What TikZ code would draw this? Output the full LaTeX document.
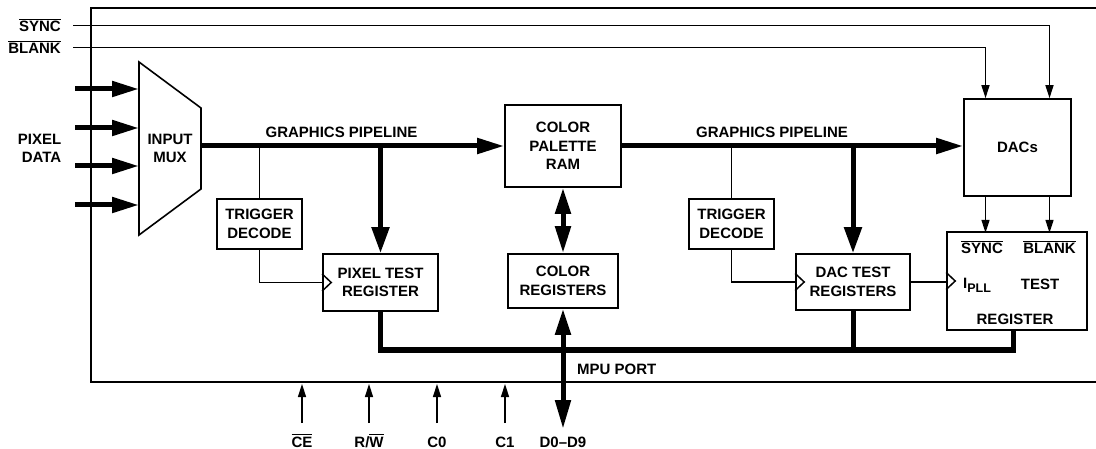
\documentclass[tikz,border=0pt]{standalone}
\usepackage{fontspec}
\setmainfont{Liberation Sans}
\usetikzlibrary{arrows.meta}
\newcommand\olbar[1]{\leavevmode\vbox{\hrule height 1.2pt\kern1.6pt\hbox{#1}}}
\begin{document}
\begin{tikzpicture}[x=1pt,y=-1pt,
  font=\fontsize{15}{18.5}\selectfont\bfseries,
  blk/.style={draw, line width=1.6pt, align=center, inner sep=0pt},
  lbl/.style={inner sep=0pt, align=center},
  sig/.style={line width=1.5pt},
  sigarrow/.style={sig, -{Triangle[length=13pt,width=8pt]}},
  bus/.style={line width=5pt},
  busarrow/.style={bus, -{Triangle[length=27pt,width=15pt]}},
  busdown/.style={bus, -{Triangle[length=26pt,width=17pt]}},
  busboth/.style={bus, {Triangle[length=26pt,width=15pt]}-{Triangle[length=27pt,width=15pt]}}
]
\useasboundingbox (0,0) rectangle (1096,449);

% outer chip outline (open to the right)
\draw[line width=2pt] (1096,8) -- (91,8) -- (91,382) -- (1096,382);

% blocks
\node[blk, minimum width=116pt, minimum height=82pt] (pal) at (563,146) {COLOR\\PALETTE\\RAM};
\node[blk, minimum width=110pt, minimum height=54pt] (creg) at (563,281) {COLOR\\REGISTERS};
\node[blk, minimum width=115pt, minimum height=57pt] (ptr) at (380.5,282.5) {PIXEL TEST\\REGISTER};
\node[blk, minimum width=85pt, minimum height=50pt] (tdA) at (259.5,224) {TRIGGER\\DECODE};
\node[blk, minimum width=85pt, minimum height=50pt] (tdB) at (731.5,224) {TRIGGER\\DECODE};
\node[blk, minimum width=114pt, minimum height=56pt] (dtr) at (853,282) {DAC TEST\\REGISTERS};
\node[blk, minimum width=107pt, minimum height=97pt] (dacs) at (1017.5,147.5) {DACs};
\node[blk, minimum width=140pt, minimum height=98pt] (treg) at (1017,281) {};

% test register contents
\node[lbl, anchor=base] (tsync) at (982,254) {\olbar{SYNC}};
\node[lbl, anchor=base] (tblank) at (1049.5,254) {\olbar{BLANK}};
\node[lbl, anchor=base west] (tipll) at (963,289) {I{\fontsize{12.5}{12.5}\selectfont\raisebox{-4pt}{PLL}}};
\node[lbl, anchor=base] (ttest) at (1040,290) {TEST};
\node[lbl, anchor=base] (treglbl) at (1015,325) {REGISTER};

% input mux
\coordinate (mTL) at (139,62);
\coordinate (mTR) at (201,108);
\coordinate (mBR) at (201,189);
\coordinate (mBL) at (139,235);
\draw[line width=1.6pt, line join=miter] (mTL) -- (mTR) -- (mBR) -- (mBL) -- cycle;
\node[lbl] (mux) at (170,148.5) {INPUT\\MUX};

% pixel data inputs
\node[lbl, anchor=east, align=right] (pdlbl) at (61.5,148.5) {PIXEL\\DATA};
\foreach \y [count=\i] in {89,128,166,205} {
  \coordinate (pd\i) at (75,\y);
  \draw[busarrow] (pd\i) -- (pd\i -| mTL);
}

% SYNC / BLANK inputs
\node[lbl, anchor=base east] (syncL) at (61,32) {\olbar{SYNC}};
\node[lbl, anchor=base east] (blankL) at (61,54) {\olbar{BLANK}};
\coordinate (syncIn) at (73,25.5);
\coordinate (blankIn) at (73,47.5);
\draw[sigarrow] (syncIn) -| ([xshift=32pt]dacs.north);
\draw[sigarrow] (blankIn) -| ([xshift=-32pt]dacs.north);
\draw[sigarrow] ([xshift=-32pt]dacs.south) -- ++(0,36);
\draw[sigarrow] ([xshift=32pt]dacs.south) -- ++(0,36);

% graphics pipeline
\coordinate (muxOut) at (201,146);
\draw[busarrow] (muxOut) -- (pal.west);
\draw[busarrow] (pal.east) -- (pal.east -| dacs.west);
\node[lbl] (gp1) at (341.5,132) {GRAPHICS PIPELINE};
\node[lbl] (gp2) at (772,132) {GRAPHICS PIPELINE};

% taps
\draw[sig] (tdA.north |- pal.west) -- (tdA.north);
\draw[busdown] (ptr.north |- pal.west) -- (ptr.north);
\draw[sig] (tdB.north |- pal.east) -- (tdB.north);
\draw[busdown] (dtr.north |- pal.east) -- (dtr.north);

% trigger clocks
\draw[sig] (tdA.south) |- (ptr.west);
\draw[sig] (tdB.south) |- (dtr.west);
\draw[sig] (dtr.east) -- (dtr.east -| treg.west);
\foreach \n in {ptr,dtr,treg}
  \draw[sig, line join=miter] ([yshift=8.5pt]\n.west) -- ([xshift=9pt]\n.west) -- ([yshift=-8.5pt]\n.west);

% palette <-> colour registers
\draw[busboth] (pal.south) -- (creg.north);

% MPU bus
\coordinate (busR) at (1013,350);
\draw[bus] (ptr.south) |- (busR) -- (busR |- treg.south);
\draw[bus] (dtr.south) -- (dtr.south |- busR);
\coordinate (mpuEnd) at (563,429);
\draw[bus, {Triangle[length=26pt,width=15pt]}-{Triangle[length=29pt,width=15pt]}] (creg.south) -- (mpuEnd);
\node[lbl, anchor=west] (mpulbl) at (577,369) {MPU PORT};

% control inputs
\coordinate (ceIn) at (302,423);
\coordinate (rwIn) at (369,423);
\coordinate (c0In) at (437,423);
\coordinate (c1In) at (505,423);
\foreach \c in {ceIn,rwIn,c0In,c1In}
  \draw[sigarrow] (\c) -- ++(0,-39);
\node[lbl, anchor=base] (ceL) at (302,447) {\olbar{CE}};
\node[lbl, anchor=base] (rwL) at (369,447) {R/\olbar{W}};
\node[lbl, anchor=base] (c0L) at (437,447) {C0};
\node[lbl, anchor=base] (c1L) at (505,447) {C1};
\node[lbl, anchor=base] (dL) at (563,447) {D0--D9};
\end{tikzpicture}
\end{document}
